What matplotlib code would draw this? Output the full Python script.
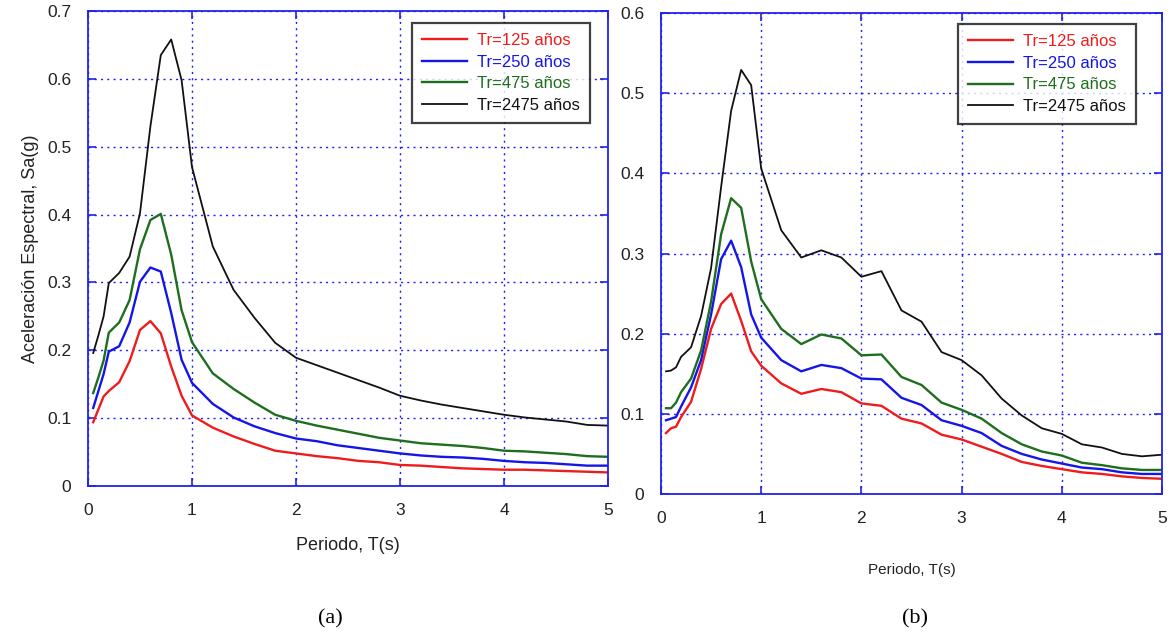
import matplotlib
matplotlib.use("Agg")
import matplotlib.pyplot as plt

plt.rcParams['font.family'] = ['Liberation Sans', 'DejaVu Sans']

# periods (s)
T = [0.05, 0.1, 0.15, 0.2, 0.3, 0.4, 0.5, 0.6, 0.7, 0.8, 0.9, 1.0,
     1.2, 1.4, 1.6, 1.8, 2.0, 2.2, 2.4, 2.6, 2.8, 3.0, 3.2, 3.4,
     3.6, 3.8, 4.0, 4.2, 4.4, 4.6, 4.8, 5.0]

LABELS = ["Tr=125 años", "Tr=250 años", "Tr=475 años", "Tr=2475 años"]
COLORS = ["#ee1c1c", "#1515e8", "#1e6e1e", "#111111"]

# panel (a)
a_125 = [0.094, 0.113, 0.132, 0.140, 0.153, 0.184, 0.230, 0.243, 0.225, 0.176, 0.133, 0.104,
         0.086, 0.073, 0.062, 0.052, 0.048, 0.044, 0.041, 0.037, 0.035, 0.031, 0.030, 0.028,
         0.026, 0.025, 0.024, 0.024, 0.023, 0.022, 0.021, 0.020]
a_250 = [0.115, 0.140, 0.165, 0.198, 0.206, 0.241, 0.301, 0.322, 0.316, 0.255, 0.186, 0.152,
         0.121, 0.101, 0.088, 0.078, 0.070, 0.066, 0.060, 0.056, 0.052, 0.048, 0.045, 0.043,
         0.042, 0.040, 0.037, 0.035, 0.034, 0.032, 0.030, 0.030]
a_475 = [0.137, 0.160, 0.185, 0.226, 0.241, 0.274, 0.349, 0.392, 0.401, 0.341, 0.259, 0.212,
         0.166, 0.143, 0.123, 0.105, 0.096, 0.089, 0.083, 0.077, 0.071, 0.067, 0.063, 0.061,
         0.059, 0.056, 0.052, 0.051, 0.049, 0.047, 0.044, 0.043]
a_2475 = [0.196, 0.222, 0.250, 0.299, 0.314, 0.338, 0.402, 0.530, 0.635, 0.658, 0.598, 0.470,
          0.353, 0.289, 0.248, 0.211, 0.189, 0.178, 0.167, 0.156, 0.145, 0.133, 0.126, 0.120,
          0.115, 0.110, 0.105, 0.101, 0.098, 0.095, 0.090, 0.089]

# panel (b)
b_125 = [0.076, 0.082, 0.084, 0.096, 0.115, 0.156, 0.206, 0.237, 0.250, 0.216, 0.178, 0.160,
         0.138, 0.125, 0.131, 0.127, 0.113, 0.110, 0.094, 0.088, 0.074, 0.068, 0.059, 0.050,
         0.040, 0.035, 0.031, 0.027, 0.025, 0.022, 0.020, 0.019]
b_250 = [0.092, 0.094, 0.096, 0.109, 0.133, 0.167, 0.224, 0.293, 0.316, 0.283, 0.224, 0.195,
         0.167, 0.153, 0.161, 0.157, 0.144, 0.143, 0.120, 0.111, 0.092, 0.085, 0.076, 0.060,
         0.050, 0.043, 0.038, 0.033, 0.031, 0.027, 0.025, 0.025]
b_475 = [0.107, 0.107, 0.114, 0.127, 0.144, 0.179, 0.240, 0.324, 0.369, 0.357, 0.290, 0.243,
         0.206, 0.187, 0.199, 0.194, 0.173, 0.174, 0.146, 0.136, 0.114, 0.105, 0.094, 0.076,
         0.062, 0.053, 0.048, 0.039, 0.036, 0.032, 0.030, 0.030]
b_2475 = [0.153, 0.154, 0.158, 0.171, 0.183, 0.222, 0.282, 0.383, 0.478, 0.529, 0.510, 0.406,
          0.329, 0.295, 0.304, 0.295, 0.271, 0.278, 0.229, 0.215, 0.177, 0.167, 0.148, 0.119,
          0.098, 0.082, 0.075, 0.062, 0.058, 0.050, 0.047, 0.049]

AX_BLUE = "#2222ee"


def style_axes(ax, ymax, xlabel_size, xlabel_pad):
    ax.set_xlim(0, 5)
    ax.set_ylim(0, ymax)
    ax.set_xticks(range(6))
    ax.set_yticks([i / 10 for i in range(int(round(ymax * 10)) + 1)])
    ax.set_yticklabels(["0"] + [f"{i / 10:g}" for i in range(1, int(round(ymax * 10)) + 1)])
    ax.grid(True, color=AX_BLUE, linestyle=(0, (1.5, 3)), linewidth=1.0)
    for sp in ax.spines.values():
        sp.set_color(AX_BLUE)
        sp.set_linewidth(1.3)
    ax.tick_params(direction='in', color=AX_BLUE, length=6, width=1.2,
                   top=True, right=True, labelsize=12.5, labelcolor="#222222", pad=12)
    ax.set_xlabel("Periodo, T(s)", fontsize=xlabel_size, labelpad=xlabel_pad, color="#222222")


def plot_panel(ax, series, legend_box, fsize):
    for vals, lab, col in zip(series, LABELS, COLORS):
        lw = 1.3 if col == "#111111" else 1.7
        ax.plot(T, vals, color=col, linewidth=lw, label=lab)
    leg = ax.legend(loc='upper right', bbox_to_anchor=legend_box, fontsize=fsize,
                    frameon=True, fancybox=False, handlelength=2.7, handletextpad=0.6,
                    labelspacing=0.4, borderpad=0.6, borderaxespad=0)
    leg.get_frame().set_edgecolor("#111111")
    leg.get_frame().set_linewidth(1.6)
    for txt, col in zip(leg.get_texts(), COLORS):
        txt.set_color(col)


fig = plt.figure(figsize=(11.72, 6.36), dpi=100)
ax1 = fig.add_axes([88 / 1172, 1 - 486 / 636, 520 / 1172, 475 / 636])
ax2 = fig.add_axes([661 / 1172, 1 - 494 / 636, 501 / 1172, 481 / 636])

plot_panel(ax1, [a_125, a_250, a_475, a_2475], (0.965, 0.975), 12)
style_axes(ax1, 0.7, 13, 14)
ax1.set_ylabel("Aceleración Espectral, Sa(g)", fontsize=13, color="#222222", labelpad=6)

plot_panel(ax2, [b_125, b_250, b_475, b_2475], (0.948, 0.977), 12)
style_axes(ax2, 0.6, 11, 27)

fig.text(330 / 1172, 1 - 619 / 636, "(a)", ha='center', va='center',
         fontsize=16, family=['Liberation Serif', 'DejaVu Serif'])
fig.text(915 / 1172, 1 - 619 / 636, "(b)", ha='center', va='center',
         fontsize=16, family=['Liberation Serif', 'DejaVu Serif'])

fig.savefig("out.png", dpi=100)
